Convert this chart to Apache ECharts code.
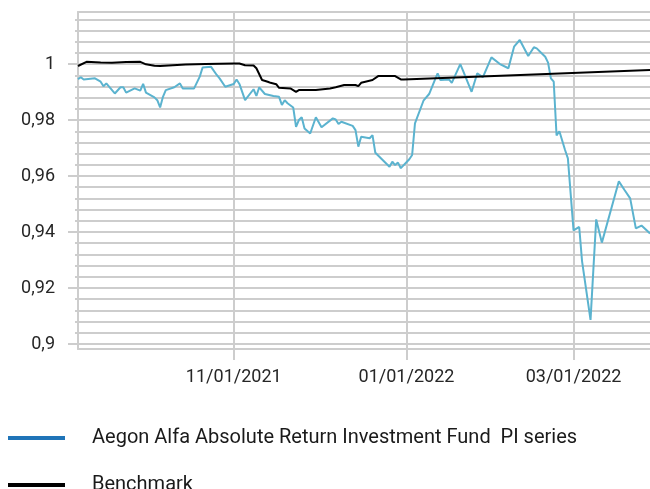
<!DOCTYPE html>
<html>
<head>
<meta charset="utf-8">
<script src="https://cdn.jsdelivr.net/npm/echarts@6.0.0/dist/echarts.min.js"></script>
<style>
  html, body { margin: 0; padding: 0; background: #ffffff; }
  #chart { width: 650px; height: 489px; }
</style>
</head>
<body>
<div id="chart"></div>
<script>
// ---- Data ----
const fundName = 'Aegon Alfa Absolute Return Investment Fund  PI series';
const benchName = 'Benchmark';

const fundDates = ['2021-09-07','2021-09-08','2021-09-09','2021-09-13','2021-09-15','2021-09-16','2021-09-17','2021-09-20','2021-09-22','2021-09-23','2021-09-24','2021-09-27','2021-09-29','2021-09-30','2021-10-01','2021-10-04','2021-10-05','2021-10-06','2021-10-07','2021-10-08','2021-10-11','2021-10-13','2021-10-14','2021-10-18','2021-10-20','2021-10-21','2021-10-24','2021-10-26','2021-10-27','2021-10-29','2021-11-01','2021-11-02','2021-11-03','2021-11-05','2021-11-08','2021-11-09','2021-11-10','2021-11-12','2021-11-15','2021-11-17','2021-11-18','2021-11-19','2021-11-20','2021-11-22','2021-11-23','2021-11-24','2021-11-25','2021-11-26','2021-11-28','2021-11-30','2021-12-02','2021-12-06','2021-12-07','2021-12-08','2021-12-09','2021-12-13','2021-12-14','2021-12-15','2021-12-16','2021-12-19','2021-12-20','2021-12-21','2021-12-26','2021-12-27','2021-12-28','2021-12-29','2021-12-30','2022-01-02','2022-01-03','2022-01-04','2022-01-07','2022-01-09','2022-01-11','2022-01-12','2022-01-13','2022-01-16','2022-01-17','2022-01-20','2022-01-21','2022-01-24','2022-01-26','2022-01-28','2022-01-31','2022-02-03','2022-02-06','2022-02-08','2022-02-10','2022-02-13','2022-02-15','2022-02-16','2022-02-18','2022-02-19','2022-02-20','2022-02-21','2022-02-22','2022-02-23','2022-02-24','2022-02-26','2022-02-27','2022-03-01','2022-03-03','2022-03-04','2022-03-07','2022-03-09','2022-03-11','2022-03-15','2022-03-17','2022-03-19','2022-03-21','2022-03-23','2022-03-25','2022-03-28'];
const fundValues = [0.9946,0.9953,0.9945,0.9949,0.9937,0.9921,0.9931,0.9895,0.9917,0.9917,0.9898,0.9913,0.9905,0.9929,0.9898,0.9881,0.9871,0.9845,0.9883,0.9907,0.9917,0.9931,0.9913,0.9913,0.9955,0.9988,0.9990,0.9961,0.9949,0.9919,
  0.9929,0.9945,0.9929,0.9871,0.9910,0.9886,0.9917,0.9893,0.9886,0.9883,0.9854,0.9871,0.9860,0.9845,0.9776,0.9800,0.9810,0.9770,0.9752,0.9810,
  0.9774,0.9806,0.9802,0.9786,0.9794,0.9779,0.9764,0.9705,0.9740,0.9735,0.9746,0.9683,0.9633,0.9651,0.9639,0.9648,0.9628,
  0.9660,0.9675,0.9788,0.9869,0.9893,0.9943,0.9967,0.9943,0.9945,0.9933,1.0000,0.9976,0.9901,0.9967,0.9953,1.0024,
  1.0000,0.9985,1.0062,1.0086,1.0029,1.0060,1.0056,1.0036,1.0026,1.0005,0.9949,0.9937,0.9745,0.9760,0.9693,0.9663,
  0.9406,0.9418,0.9296,0.9086,0.9445,0.9362,0.9508,0.9581,0.9550,0.9520,0.9413,0.9423,0.9395];

const benchDates = ['2021-09-07','2021-09-10','2021-09-15','2021-09-19','2021-09-24','2021-09-29','2021-10-01','2021-10-04','2021-10-06','2021-10-15','2021-10-22','2021-11-01','2021-11-03','2021-11-05','2021-11-08','2021-11-09','2021-11-11','2021-11-13','2021-11-14','2021-11-16','2021-11-17','2021-11-21','2021-11-23','2021-11-24','2021-11-30','2021-12-05','2021-12-07','2021-12-10','2021-12-14','2021-12-15','2021-12-16','2021-12-20','2021-12-22','2021-12-28','2021-12-30','2021-12-31','2022-03-28'];
const benchValues = [0.9993,1.0008,1.0006,1.0005,1.0007,1.0008,0.9999,0.9994,0.9993,0.9998,1.0000,1.0002,1.0002,0.9996,0.9995,0.9985,0.9943,0.9937,0.9933,0.9928,0.9915,0.9913,0.9901,0.9907,0.9907,0.9913,0.9917,0.9925,0.9925,0.9921,0.9933,0.9943,0.9957,0.9957,0.9945,0.9945,0.9979];

const xTickDates = ['2021-11-01','2022-01-01','2022-03-01'];
const xRange = ['2021-09-07','2022-03-28'];
const yTickValues = [0.9, 0.92, 0.94, 0.96, 0.98, 1];
const yMinorStep = 0.004;
const yRange = [0.9, 1.0186];       // plotted value range of the gridded area
const yAxisLineMin = 0.8982;         // the x-axis line sits a little below 0,9

// ---- helpers ----
const toTs = s => { const p = s.split('-').map(Number); return Date.UTC(p[0], p[1] - 1, p[2]); };
const pad = n => (n < 10 ? '0' : '') + n;
const fmtDate = v => { const d = new Date(v); return pad(d.getUTCMonth() + 1) + '/' + pad(d.getUTCDate()) + '/' + d.getUTCFullYear(); };
const fmtY = v => String(+(+v).toFixed(2)).replace('.', ',');

const fundData = fundDates.map((d, i) => [toTs(d), fundValues[i]]);
const benchData = benchDates.map((d, i) => [toTs(d), benchValues[i]]);
const xTicks = xTickDates.map(toTs);
const gridLineVals = [];
for (let k = 0; 0.9 + k * yMinorStep < yRange[1] - 0.001; k++) gridLineVals.push(+(0.9 + k * yMinorStep).toFixed(3));

const GRID = '#cdcdcd';
const FONT = 'Roboto';

const chart = echarts.init(document.getElementById('chart'), null, { renderer: 'canvas' });
chart.setOption({
  animation: false,
  backgroundColor: '#ffffff',
  grid: [
    { left: 78, right: 0, top: 12, bottom: 140, containLabel: false },
    { left: 78, right: 0, top: 12, bottom: 145, containLabel: false }
  ],
  xAxis: [
    {
      type: 'value', gridIndex: 0, position: 'bottom',
      min: toTs(xRange[0]), max: toTs(xRange[1]),
      axisLine: { show: true, onZero: false, lineStyle: { color: GRID, width: 2 } },
      axisTick: { show: true, customValues: xTicks, length: 11, lineStyle: { color: GRID, width: 2 } },
      axisLabel: { show: true, customValues: xTicks, formatter: fmtDate, margin: 19,
                   fontFamily: FONT, fontSize: 18, color: '#262626' },
      splitLine: { show: true, lineStyle: { color: GRID, width: 2 } }
    },
    {
      type: 'value', gridIndex: 1, position: 'top',
      min: toTs(xRange[0]), max: toTs(xRange[1]),
      axisLine: { show: true, onZero: false, lineStyle: { color: GRID, width: 2 } },
      axisTick: { show: false }, axisLabel: { show: false }, splitLine: { show: false }
    }
  ],
  yAxis: [
    {
      type: 'value', gridIndex: 0, position: 'left', min: yAxisLineMin, max: yRange[1],
      axisLine: { show: true, onZero: false, lineStyle: { color: GRID, width: 2 } },
      axisTick: { show: false }, axisLabel: { show: false }, splitLine: { show: false }
    },
    {
      type: 'value', gridIndex: 1, position: 'left', offset: 0, min: yRange[0], max: yRange[1],
      axisLine: { show: false, onZero: false },
      axisTick: { show: true, customValues: gridLineVals, length: 3, lineStyle: { color: GRID, width: 2 } },
      axisLabel: { show: false },
      splitLine: { show: true, lineStyle: { color: GRID, width: 2 } }
    },
    {
      type: 'value', gridIndex: 1, position: 'left', offset: 0, min: yRange[0], max: yRange[1],
      axisLine: { show: false, onZero: false },
      axisTick: { show: true, customValues: yTickValues, length: 10, lineStyle: { color: GRID, width: 2 } },
      axisLabel: { show: true, customValues: yTickValues, formatter: fmtY, margin: 23,
                   fontFamily: FONT, fontSize: 18, color: '#262626' },
      splitLine: { show: false }
    }
  ],
  legend: [
    {
      left: 8, top: 428, padding: 0, orient: 'vertical', selectedMode: false,
      icon: 'rect', itemWidth: 57, itemHeight: 4,
      data: [{ name: fundName, itemStyle: { color: '#1f74b8' } }],
      textStyle: { fontFamily: FONT, fontSize: 20, color: '#1a1a1a', padding: [0, 0, 0, 22] }
    },
    {
      left: 8, top: 475, padding: 0, orient: 'vertical', selectedMode: false,
      icon: 'rect', itemWidth: 57, itemHeight: 4,
      data: [{ name: benchName, itemStyle: { color: '#000000' } }],
      textStyle: { fontFamily: FONT, fontSize: 20, color: '#1a1a1a', padding: [0, 0, 0, 22] }
    }
  ],
  series: [
    {
      name: fundName, type: 'line', xAxisIndex: 0, yAxisIndex: 0,
      data: fundData, showSymbol: false, symbol: 'none',
      lineStyle: { color: '#5bb3cf', width: 2 }, itemStyle: { color: '#5bb3cf' }, z: 3
    },
    {
      name: benchName, type: 'line', xAxisIndex: 0, yAxisIndex: 0,
      data: benchData, showSymbol: false, symbol: 'none',
      lineStyle: { color: '#000000', width: 2 }, itemStyle: { color: '#000000' }, z: 4
    }
  ]
});
</script>
</body>
</html>
